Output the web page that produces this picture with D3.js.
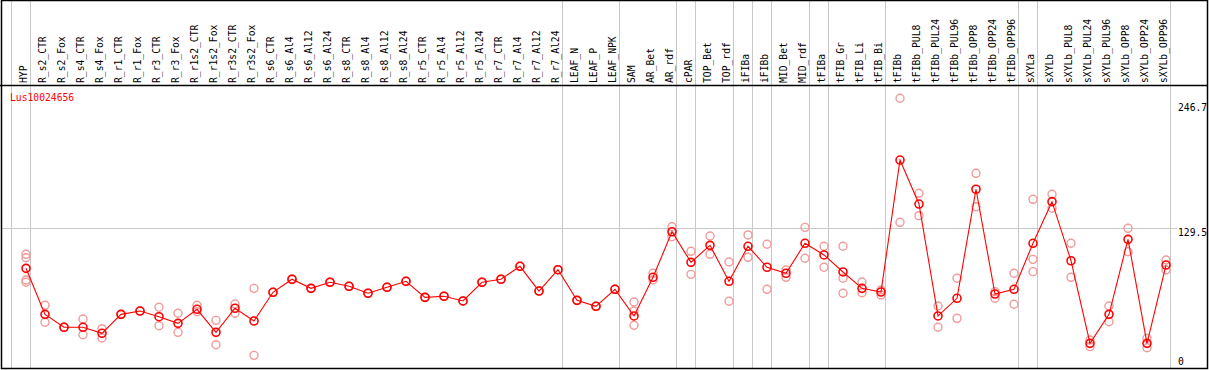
<!DOCTYPE html>
<html>
<head>
<meta charset="utf-8">
<script src="https://cdn.jsdelivr.net/npm/d3@7"></script>
<style>
  body { margin: 0; background: #fff; }
  svg { display: block; }
  text { font-family: "DejaVu Sans Mono", monospace; font-size: 9.7px; }
</style>
</head>
<body>
<script>
// sample names along the top
var categories = ["HYP","R_s2_CTR","R_s2_Fox","R_s4_CTR","R_s4_Fox","R_r1_CTR","R_r1_Fox","R_r3_CTR","R_r3_Fox",
  "R_r1s2_CTR","R_r1s2_Fox","R_r3s2_CTR","R_r3s2_Fox","R_s6_CTR","R_s6_Al4","R_s6_Al12","R_s6_Al24",
  "R_s8_CTR","R_s8_Al4","R_s8_Al12","R_s8_Al24","R_r5_CTR","R_r5_Al4","R_r5_Al12","R_r5_Al24",
  "R_r7_CTR","R_r7_Al4","R_r7_Al12","R_r7_Al24","LEAF_N","LEAF_P","LEAF_NPK","SAM","AR_Bet","AR_rdf",
  "cPAR","TOP_Bet","TOP_rdf","iFIBa","iFIBb","MID_Bet","MID_rdf","tFIBa","tFIB_Gr","tFIB_Li","tFIB_Bi",
  "tFIBb","tFIBb_PUL8","tFIBb_PUL24","tFIBb_PUL96","tFIBb_OPP8","tFIBb_OPP24","tFIBb_OPP96",
  "sXYLa","sXYLb","sXYLb_PUL8","sXYLb_PUL24","sXYLb_PUL96","sXYLb_OPP8","sXYLb_OPP24","sXYLb_OPP96"];

// mean expression per sample
var means = [92.2,49.2,37.1,37.1,31.5,49.2,52.3,47.0,40.8,53.9,32.4,54.9,43.0,69.8,82.0,73.5,79.2,
  75.4,68.9,74.5,80.1,65.1,66.1,61.7,79.2,82.0,94.1,71.0,90.9,62.3,56.7,72.6,47.7,83.8,126.4,
  97.8,113.7,80.1,112.8,93.2,87.6,115.6,104.7,88.8,73.5,70.1,
  193.4,152.3,47.7,64.2,166.1,68.2,72.6,
  115.6,154.5,99.3,22.1,49.2,119.3,22.1,95.3];

// individual replicates per sample
var replicates = [[105.3,102.1,81.3,79.2],[57.7,41.8],[37.1,37.1],[44.9,30.2],[35.8,27.1],[49.2,49.2],[52.3,52.3],
  [55.8,38.6],[50.2,32.4],[57.7,51.7],[43.6,20.8],[58.9,50.2],[73.5,10.9],[69.8,69.8],[82.0,82.0],
  [73.5,73.5],[79.2,79.2],[75.4,75.4],[68.9,68.9],[74.5,74.5],[80.1,80.1],[65.1,65.1],[66.1,66.1],
  [61.7,61.7],[79.2,79.2],[82.0,82.0],[94.1,94.1],[71.0,71.0],[90.9,90.9],[62.3,62.3],[56.7,56.7],
  [72.6,72.6],[60.7,52.3,39.0],[87.6,81.3],[131.1,121.8],[108.1,86.6],[122.4,105.3],[98.1,61.4],
  [123.4,102.5],[114.7,72.6],[90.6,83.8],[130.5,101.6],[112.8,93.2],[112.8,82.9,68.9],[79.4,69.4],
  [72.0,67.3],[251.1,135.2],[162.3,141.4],[57.0,37.1],[82.9,45.5],[181.0,149.8],[70.4,64.2],
  [87.6,58.6],[156.7,100.6,89.1],[161.4,148.3],[115.6,83.8],[25.2,19.0],[57.0,42.3],[129.6,107.7],
  [26.8,18.0],[100.0,90.6]];

// last sample of each group ("" = left edge)
var groupEnds = ["", "HYP","R_r7_Al24","LEAF_NPK","AR_rdf","cPAR","TOP_rdf","iFIBa","iFIBb","MID_rdf",
  "tFIBa","tFIB_Bi","tFIBb_OPP96","sXYLa","sXYLb_OPP96"];

var yTicks = [0, 129.5, 246.7];
var geneName = "Lus10024656";

var W = 1209, H = 370;
var svg = d3.select("body").append("svg").attr("width", W).attr("height", H);

var x = d3.scalePoint().domain(categories).range([26, 1166]);
var step = x.step();
var y = d3.scaleLinear().domain([0, 246.7]).range([367, 103]);

function sepX(name) {
  if (name === "") return x(categories[0]) - step + 4.5;
  return x(name) + 4.5;
}

// grid
svg.append("g").selectAll("line").data(groupEnds).join("line")
  .attr("x1", d => Math.floor(sepX(d)) + 0.5).attr("x2", d => Math.floor(sepX(d)) + 0.5)
  .attr("y1", 0).attr("y2", 369)
  .attr("stroke", "#c8c8c8").attr("stroke-width", 1);

svg.append("line")
  .attr("x1", 1).attr("x2", 1177)
  .attr("y1", Math.round(y(yTicks[1])) + 0.5).attr("y2", Math.round(y(yTicks[1])) + 0.5)
  .attr("stroke", "#c8c8c8").attr("stroke-width", 1);

// borders
svg.append("rect").attr("x", 1.5).attr("y", 0.5).attr("width", 1206).attr("height", 368)
  .attr("fill", "none").attr("stroke", "#000").attr("stroke-width", 1.5);
svg.append("line").attr("x1", 0).attr("x2", 1208).attr("y1", 85.5).attr("y2", 85.5)
  .attr("stroke", "#000").attr("stroke-width", 1.5);

// header labels, read bottom to top
svg.append("g").selectAll("text").data(categories).join("text")
  .attr("transform", d => "translate(" + (x(d) - 2) + ",83) rotate(-90)")
  .attr("dy", "0.35em")
  .attr("text-anchor", "start")
  .attr("fill", "#000")
  .text(d => d);

// y labels
svg.append("g").selectAll("text").data(yTicks).join("text")
  .attr("x", 1178)
  .attr("y", d => Math.min(y(d) + 8, 365))
  .attr("fill", "#000")
  .text(d => d);

svg.append("text").attr("x", 10).attr("y", 101).attr("fill", "#f00").text(geneName);

// replicates
var reps = [];
replicates.forEach(function(r, i) {
  r.forEach(function(v) { reps.push({key: categories[i], value: v}); });
});
svg.append("g").selectAll("circle").data(reps).join("circle")
  .attr("cx", d => x(d.key)).attr("cy", d => y(d.value)).attr("r", 4)
  .attr("fill", "none").attr("stroke", "#f09a9a").attr("stroke-width", 1.4);

// mean line
var line = d3.line()
  .x(function(d, i) { return x(categories[i]); })
  .y(function(d) { return y(d); });
svg.append("path").attr("d", line(means))
  .attr("fill", "none").attr("stroke", "#f00").attr("stroke-width", 1.1);

svg.append("g").selectAll("circle").data(means).join("circle")
  .attr("cx", (d, i) => x(categories[i])).attr("cy", d => y(d)).attr("r", 4)
  .attr("fill", "none").attr("stroke", "#f00").attr("stroke-width", 1.6);
</script>
</body>
</html>
